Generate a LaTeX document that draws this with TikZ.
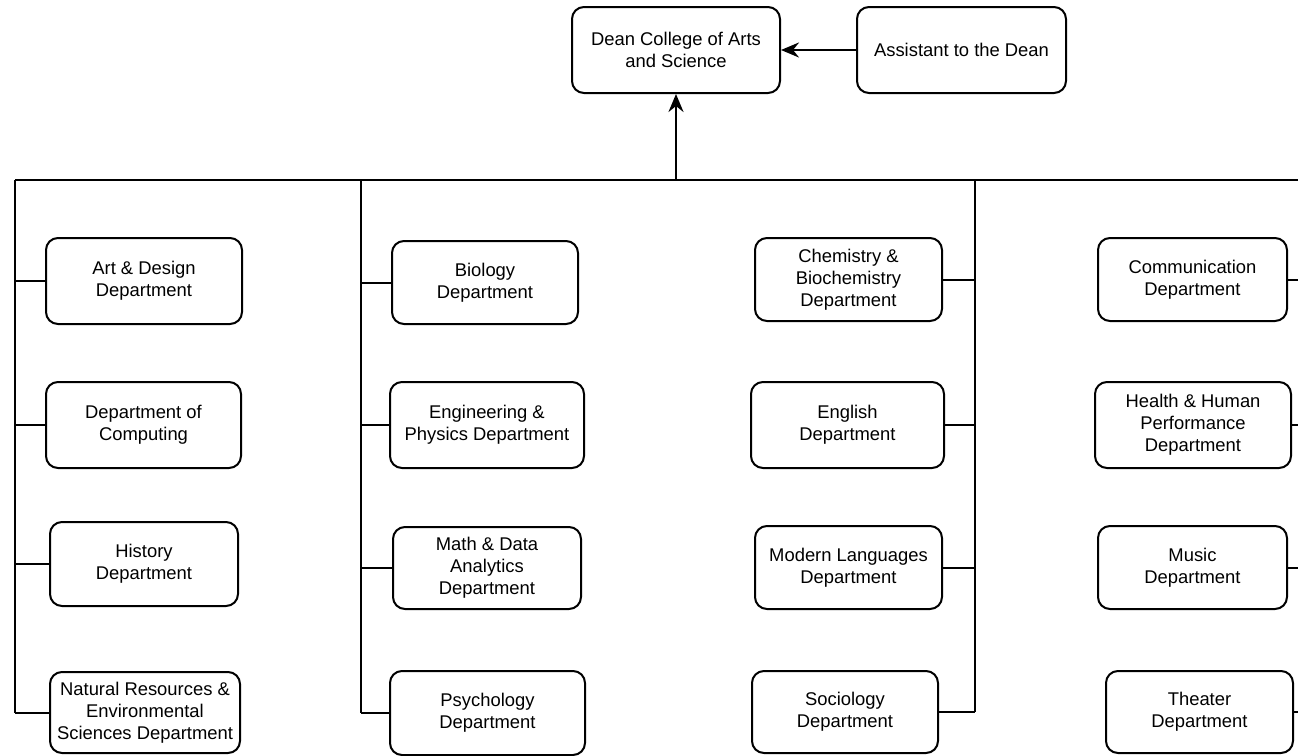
\documentclass[tikz,border=0pt]{standalone}
\usepackage{fontspec}
\setmainfont{Liberation Sans}
\usetikzlibrary{arrows.meta}
\tikzset{
  box/.style={draw=black, line width=2pt, rounded corners=12pt, fill=white, align=center, inner sep=0pt,
    font=\fontsize{18.4}{22}\selectfont},
  bus/.style={draw=black, line width=2.8pt},
  conn/.style={draw=black, line width=2pt},
  arr/.style={draw=black, line width=2.6pt, -{Stealth[length=18pt,width=15pt,inset=6pt]}}
}
\begin{document}
\begin{tikzpicture}[x=1pt,y=-1pt]
\useasboundingbox (0,0) rectangle (1298,755);
% top
\node[box, minimum width=208pt, minimum height=86pt] (dean) at (676,50) {Dean College of Arts\\and Science};
\node[box, minimum width=209pt, minimum height=86pt] (asst) at (961.5,50) {Assistant to the Dean};
% column 1
\node[box, minimum width=196pt, minimum height=86pt] (art) at (144,281) {Art \& Design\\Department};
\node[box, minimum width=195pt, minimum height=86pt] (comp) at (143.5,425) {Department of\\Computing};
\node[box, minimum width=188pt, minimum height=84pt] (hist) at (144,564) {History\\Department};
\node[box, minimum width=190pt, minimum height=81pt] (nat) at (145,712.5) {Natural Resources \&\\Environmental\\Sciences Department};
% column 2
\node[box, minimum width=186pt, minimum height=83pt] (bio) at (485,282.5) {Biology\\Department};
\node[box, minimum width=194pt, minimum height=86pt] (eng) at (487,425) {Engineering \&\\Physics Department};
\node[box, minimum width=188pt, minimum height=82pt] (math) at (487,568) {Math \& Data\\Analytics\\Department};
\node[box, minimum width=195pt, minimum height=84pt] (psy) at (487.5,713) {Psychology\\Department};
% column 3
\node[box, minimum width=187pt, minimum height=83pt] (chem) at (848.5,279.5) {Chemistry \&\\Biochemistry\\Department};
\node[box, minimum width=193pt, minimum height=86pt] (engl) at (847.5,425) {English\\Department};
\node[box, minimum width=187pt, minimum height=83pt] (mod) at (848.5,567.5) {Modern Languages\\Department};
\node[box, minimum width=186pt, minimum height=82pt] (soc) at (845,712) {Sociology\\Department};
% column 4
\node[box, minimum width=189pt, minimum height=83pt] (commu) at (1192.5,279.5) {Communication\\Department};
\node[box, minimum width=196pt, minimum height=86pt] (health) at (1193,425) {Health \& Human\\Performance\\Department};
\node[box, minimum width=189pt, minimum height=83pt] (music) at (1192.5,567.5) {Music\\Department};
\node[box, minimum width=187pt, minimum height=82pt] (theat) at (1199.5,712) {Theater\\Department};
% bus coordinates
\coordinate (busL) at (15,180);
\coordinate (busR) at (1298,180);
\coordinate (c2) at (361,180);
\coordinate (c3) at (975,180);
\coordinate (c4) at (1298,180);
\coordinate (mid) at (676,180);
% bus and verticals
\draw[bus] (busL) -- (busR);
\draw[bus] (busL) -- (busL |- nat.west);
\draw[bus] (c2) -- (c2 |- psy.west);
\draw[bus] (c3) -- (c3 |- soc.east);
% arrows
\draw[arr] (mid) -- (dean.south);
\draw[arr] (asst.west) -- (dean.east);
% connectors
\foreach \n in {art,comp,hist,nat}{\draw[conn] (busL |- \n.west) -- (\n.west);}
\foreach \n in {bio,eng,math,psy}{\draw[conn] (c2 |- \n.west) -- (\n.west);}
\foreach \n in {chem,engl,mod,soc}{\draw[conn] (\n.east) -- (c3 |- \n.east);}
\foreach \n in {commu,health,music,theat}{\draw[conn] (\n.east) -- (c4 |- \n.east);}
\end{tikzpicture}
\end{document}
